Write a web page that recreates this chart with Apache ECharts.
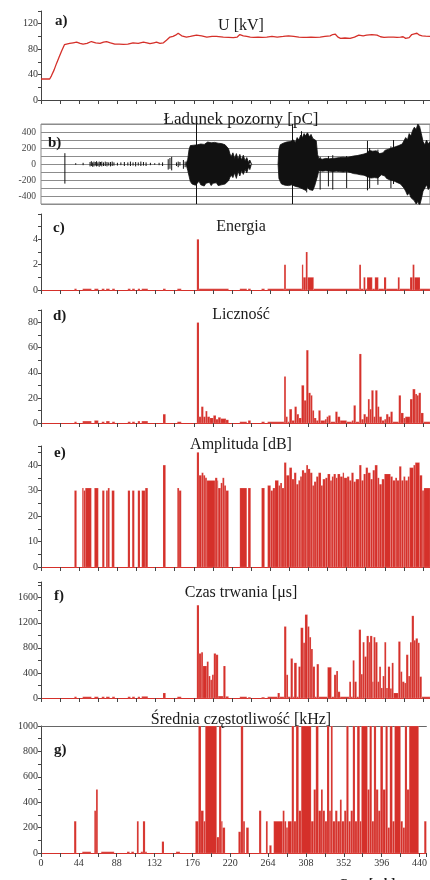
<!DOCTYPE html>
<html>
<head>
<meta charset="utf-8">
<script src="https://cdn.jsdelivr.net/npm/echarts@6/dist/echarts.min.js"></script>
<style>
  html, body { margin: 0; padding: 0; background: #fff; }
  #chart { width: 430px; height: 880px; }
</style>
</head>
<body>
<div id="chart"></div>
<script>
// time axis [s]
const xMax = 448;

// a) U [kV]  -> [t, kV]
const napiecie = [[0,33],[10,33],[12,38],[15,47],[18,58],[21,68],[24,78],[27,87],[29,89],[33,89],[37,90],[41,91],[45,89],[48.5,88],[53,89],[58,92],[63,90],[68,89],[72,91],[75.5,92],[80,90],[85,88],[90,88],[95,87.5],[100,88],[106,90],[112,89],[118,91],[122,90],[125.5,88.5],[130,90],[133,91],[137,89],[141,90],[144.5,94],[148.5,99],[152,100],[155,102],[158,105],[162,101],[167.5,99],[172,100],[179,102],[185,101],[191,99],[197,100],[202,100],[210,99],[216,98.5],[221.5,98],[226,99],[229,103],[233,101],[237,100],[241,99],[245,98.5],[250,99],[255,98.5],[260,99],[266,100],[272,99],[279,100],[285,101],[291,100],[297,99],[302,98.5],[306,98.5],[311,99],[316,98.5],[321.5,99],[327,100],[333,101],[336,103],[339,103.5],[342,99],[345,97],[350,97.5],[356,97],[361,99],[366,102],[371,101],[375,102],[381,103],[387,102],[391,99.5],[395,98.5],[400,99],[406,99],[410,98.5],[414,99],[417,99.5],[420,97],[424,98],[427,103],[430,104],[433,105],[436,102],[439,101],[443,100.5],[448,100]];

// b) Ladunek pozorny [pC] -> envelopes [t, max, min]
const ladBlob1 = [[167,0,0],[169,60,-80],[170.5,180,-150],[172,230,-220],[174,250,-250],[176,235,-230],[178,255,-265],[180,240,-240],[182,265,-215],[184,250,-260],[186,270,-235],[188,245,-275],[190,260,-240],[192,275,-255],[194,250,-230],[196,265,-270],[198,255,-240],[200,270,-260],[202,250,-235],[204,260,-270],[206,245,-245],[208,255,-260],[210,230,-240],[212,240,-250],[214,220,-230],[216,190,-210],[217.5,130,-170],[219,90,-140],[221,140,-170],[223,70,-110],[225,130,-180],[227,60,-90],[229,120,-150],[231,50,-80],[233,110,-130],[235,40,-70],[237,80,-110],[239,20,-40],[240.5,50,-70],[242,10,-15],[243,0,0]];
const ladBlob2 = [[273,0,0],[274,180,-180],[275.5,240,-220],[277,225,-250],[279,260,-235],[281,240,-265],[283,275,-240],[285,250,-270],[287,280,-245],[289,255,-260],[291,300,-250],[293,270,-280],[295,330,-260],[297,300,-290],[299,360,-280],[301,330,-310],[303,380,-300],[305,350,-330],[307,390,-290],[309,340,-320],[311,370,-300],[313,320,-330],[315,340,-280],[317,290,-300],[318.5,120,-150],[320,70,-80],[322,90,-70],[324,60,-90],[326,80,-75],[328,70,-85],[330,90,-70],[332,65,-90],[334,85,-80],[336,70,-95],[338,95,-80],[340,75,-90],[342,90,-75],[344,80,-95],[346,100,-85],[348,85,-100],[350,95,-80],[352,80,-95],[354,100,-90],[356,90,-105],[358,110,-95],[360,100,-120],[362,120,-105],[364,105,-125],[366,130,-110],[368,115,-135],[370,140,-120],[372,125,-140],[374,150,-130],[376,140,-160],[378,170,-150],[380,150,-175],[382,160,-150],[384,140,-170],[386,165,-145],[388,150,-175],[390,130,-150],[392,155,-135],[394,140,-160],[396,170,-150],[398,150,-180],[400,185,-165],[402,170,-200],[404,200,-180],[406,180,-210],[408,215,-195],[410,190,-230],[412,230,-210],[414,210,-250],[416,250,-240],[418,290,-300],[420,330,-340],[422,300,-390],[424,380,-360],[426,350,-420],[428,420,-400],[430,460,-460],[432,430,-500],[434,500,-470],[436,470,-520],[438,380,-440],[440,280,-340],[442,240,-300],[444,300,-260],[446,250,-320],[448,280,-290]];
const ladSpikes = [[27.5,135,-245],[40,10,-10],[48.5,15,-15],[56.5,25,-30],[58,35,-25],[59.5,20,-35],[61,30,-30],[62.5,25,-20],[64,35,-30],[65.5,20,-25],[67,30,-35],[68.5,25,-20],[70,30,-30],[72,20,-25],[74,30,-25],[76,25,-30],[78,20,-20],[80,25,-30],[82,30,-25],[84,20,-20],[88,15,-20],[92,20,-15],[96,25,-25],[100,20,-20],[103,30,-25],[106,20,-20],[109,25,-30],[112,20,-20],[115,30,-25],[118,25,-20],[121,20,-25],[126,15,-15],[131,10,-10],[136,15,-15],[140,20,-25],[146.5,60,-70],[148.5,75,-60],[150.5,90,-80],[156,20,-25],[158,30,-40],[160,25,-20],[164,50,-60],[166,30,-40],[300,410,-300],[306,380,-355],[321.5,90,-320],[331,100,-280],[336,110,-320],[352,100,-300],[376,290,-330],[378.5,200,-300],[388,180,-260],[403,220,-300],[406,300,-250]];
const ladMarks = [178.5, 289.5];

// c) Energia -> [t start, value] (value holds until next t)
const energia = [[0,0],[38.5,0.1],[41,0],[48,0.1],[58,0],[61.5,0.1],[66,0],[70,0.1],[73,0],[75,0.1],[79,0],[82,0.1],[85,0],[100,0.1],[103,0],[105,0.1],[108,0],[111.5,0.1],[114,0],[116,0.1],[123,0],[140.5,0.1],[143.5,0],[157,0.1],[161.5,0],[179.5,4],[182,0.1],[216,0],[229,0.1],[237,0],[238.5,0.1],[241.5,0],[254,0.1],[257.5,0],[261,0.1],[280,2],[282,0.1],[300.5,2],[302,1],[305,3],[307,1],[314,0.1],[366.5,2],[368.5,0.1],[371.5,1],[373.5,0.1],[375.5,1],[381.5,0.1],[384.5,1],[388.5,0.1],[395,1],[397.5,0.1],[411,1],[413,0.1],[425,1],[428,2],[430,1],[436.5,0.1],[448,0.1]];

// d) Licznosc
const licznosc = [[0,0],[38.5,1],[41,0],[48,1.5],[58,0],[61.5,2],[66,0],[70,1],[73,0],[75,1.5],[79,0],[82,1],[85,0],[100,1],[103,0],[105,1],[108,0],[111.5,1.5],[114,0],[116,1.5],[123,0],[140.5,7],[143.5,0],[157,1],[161.5,0],[179.5,80],[182,5],[184.5,13],[187,5],[189.5,9.5],[191.5,5],[194.5,4],[198.5,6],[201.5,3],[204,4.5],[207,3.5],[213,2.5],[216,0],[229,1],[237,0],[238.5,2],[241.5,0],[254,1],[257.5,0],[261,1],[280,37],[282,5],[284,1],[286,11],[289,2],[292,13],[294.5,7],[297,4],[300,30],[303,18],[305.5,58],[308,24],[310.5,22],[312.5,10],[314.5,4],[317,2],[319.5,10],[322,2],[327,3],[329,5],[331,6],[333.5,1],[339,9],[341.5,5],[344.5,2],[352,1],[358,2],[360,14],[362.5,1],[366.5,55],[369,3],[371.5,7],[374,5],[376.5,19],[378.5,11],[380.5,26],[383,5],[385,26],[387.5,13],[389.5,5],[392.5,2],[395.5,3],[397.5,7],[400,5],[402.5,9],[405,1],[412,22],[414.5,8],[417.5,4],[419.5,5],[425,19],[428,27],[431,23],[433,22],[435,24],[437.5,8],[440.5,1],[448,1]];

// e) Amplituda [dB]
const amplituda = [[0,0],[38.5,30],[41,0],[47.5,31],[49,30],[51,31],[58,0],[61.5,31],[66,0],[70.5,30],[73,0],[75,30],[77,31],[79,0],[81.5,30],[84.5,0],[100,30],[102.5,0],[105,30],[107.5,0],[111.5,30],[114,0],[116,30],[120,31],[123,0],[140.5,40],[143.5,0],[157,31],[159,30],[161.5,0],[179.5,45],[182,36],[185,37],[187,36],[189,35],[191,34],[200.5,35],[203,34],[204,31],[207,33],[209,35],[211,32],[213,30],[216,0],[229,31],[237,0],[238.5,31],[241.5,0],[254,31],[257.5,0],[261,32],[264.5,30],[267,31],[269.5,34],[273.5,32],[275.5,33],[277.5,31],[280,41],[282.5,36],[286,39],[289,34.5],[291.5,37],[294,32.5],[296.5,34],[298.5,35.5],[300.5,38],[303,37],[305.5,40],[307.5,38.5],[310,37],[312.5,32],[314.5,33.5],[317,35.5],[319.5,37],[322.5,32],[324.5,34.5],[327.5,35],[330,36.5],[333,34],[335,35.5],[337,36.5],[339.5,35],[341.5,36.5],[344.5,35.5],[347.5,37],[349,35],[352.5,35.5],[355,34],[357.5,37],[360,33.5],[362.5,34.5],[366.5,40],[369,34],[371.5,36.5],[374,39],[376.5,37],[379.5,34.5],[382,38],[384.5,40],[387.5,35],[389.5,32.5],[392.5,34.5],[395.5,36.5],[402.5,35.5],[405,34],[408,35],[410,34],[412.5,39.5],[415,34],[417.5,35.5],[419.5,34],[422.5,35.5],[424.5,39],[429,40],[431,41],[436,36],[439,30],[441,31],[448,31]];

// f) Czas trwania [us]
const czas = [[0,0],[38.5,20],[41,0],[48,20],[58,0],[61.5,20],[66,0],[70,20],[73,0],[75,20],[79,0],[82,20],[85,0],[100,20],[103,0],[105,20],[108,0],[111.5,20],[114,0],[116,25],[123,0],[140.5,80],[143.5,0],[157,20],[161.5,0],[179.5,1480],[182,710],[184.5,730],[186.5,510],[191,580],[193,350],[195,290],[197,370],[199,710],[201.5,690],[204,30],[210,510],[212.5,25],[216,0],[229,20],[237,0],[238.5,12],[241.5,0],[254,12],[257.5,0],[261,20],[272.5,80],[275,20],[280,1140],[282.5,370],[284.5,20],[287.5,630],[290,20],[291.5,560],[294.5,20],[296.5,500],[299,1120],[302,880],[304,1330],[307,1140],[309,970],[311,780],[313,500],[315.5,20],[317.5,540],[320,20],[330,490],[334.5,20],[337.5,370],[340,430],[342,100],[344.5,20],[355,260],[357,20],[359,600],[361,260],[363.5,20],[366,1090],[368.5,380],[370.5,890],[372.5,660],[375,990],[377.5,890],[379,990],[381.5,260],[383,970],[385,890],[387.5,260],[389.5,500],[391.5,160],[393.5,350],[395.5,890],[397.5,160],[399.5,500],[402,150],[404,560],[406,80],[411.5,900],[414,420],[416,260],[418.5,240],[420.5,690],[423,350],[425,890],[427,1310],[429.5,920],[431.5,950],[434,880],[436,340],[438.5,20],[448,20]];

// g) Srednia czestotliwosc [kHz]
const srednia = [[0,0],[38.5,250],[41,0],[48,10],[58,0],[62,333],[64,500],[66,0],[70,10],[85,0],[100,10],[103,0],[105,10],[108,0],[111.5,250],[113.5,0],[116,10],[118.5,250],[121,10],[123,0],[140.5,90],[143,0],[157,10],[161.5,0],[179.5,250],[183,1000],[186,333],[189,250],[191,1000],[204.2,125],[207,1000],[209.5,250],[211,200],[214,0],[229.5,167],[232.3,1000],[235,250],[237,0],[238.5,200],[241.5,0],[253.5,333],[256,0],[261.5,250],[263.5,0],[265.5,60],[268,0],[270.5,250],[281,333],[283,250],[285,200],[287,250],[291.5,1000],[294,250],[296.5,1000],[299.5,333],[302.5,1000],[314,250],[317,500],[319.5,1000],[322.5,333],[325.5,500],[327.5,333],[330,250],[332.5,1000],[335,333],[337,1000],[339,250],[342,333],[344.5,250],[347.5,420],[349.5,250],[352.5,333],[355,1000],[357.5,250],[360,333],[362.5,1000],[365,250],[367.5,1000],[370.5,250],[372.5,1000],[379.5,500],[382,1000],[384.5,250],[387,1000],[389.5,500],[392,333],[394.5,1000],[397.5,500],[400.5,1000],[403,200],[405.5,1000],[408.5,250],[411,1000],[418,250],[420.5,200],[423,1000],[425.5,500],[428,1000],[439,0],[445.5,250],[448,250]];

const RED = '#d5302a';
const SERIF = "'Liberation Serif', 'DejaVu Serif', serif";
const AXIS = '#444';

const chart = echarts.init(document.getElementById('chart'));

// panel layout: [top, height]
const panels = [[11, 89], [124, 80], [214, 76], [310, 113], [446, 121], [582, 116], [726, 127]];

const grids = panels.map((p, i) => ({
    left: 41, right: 0, top: p[0], height: p[1],
    show: i === 1, borderColor: '#888', borderWidth: 1
}));

const labelStyle = { fontFamily: SERIF, fontSize: 10, color: '#333' };

function xAx(gi, withLabels, lineColor) {
    return {
        gridIndex: gi, type: 'value', min: 0, max: xMax, interval: 22,
        axisLine: { show: true, onZero: false, lineStyle: { color: lineColor || AXIS } },
        axisTick: { show: true, length: 4, lineStyle: { color: AXIS } },
        splitLine: { show: false },
        axisLabel: withLabels
            ? { ...labelStyle, margin: 5, formatter: v => (v % 44 === 0 ? String(v) : '') }
            : { show: false }
    };
}

function yAx(gi, max, interval, every, hideMax) {
    return {
        gridIndex: gi, type: 'value', min: 0, max: max, interval: interval,
        axisLine: { show: true, lineStyle: { color: AXIS } },
        axisTick: { show: true, length: 3, lineStyle: { color: AXIS } },
        splitLine: { show: false },
        axisLabel: { ...labelStyle, margin: 3,
            formatter: v => (Math.abs(v % every) < 1e-6 && !(hideMax && v === max) ? String(v) : '') }
    };
}

const xAxes = [
    xAx(0, false),
    { gridIndex: 1, type: 'value', min: 0, max: xMax, axisLine: { show: false }, axisTick: { show: false },
      axisLabel: { show: false }, splitLine: { show: false } },
    xAx(2, false, RED), xAx(3, false, RED), xAx(4, false, RED), xAx(5, false, RED), xAx(6, true, RED),
    // top frame line of panel g
    { gridIndex: 6, type: 'value', position: 'top', min: 0, max: xMax,
      axisLine: { show: true, onZero: false, lineStyle: { color: '#666' } },
      axisTick: { show: false }, axisLabel: { show: false }, splitLine: { show: false } }
];

const yAxes = [
    yAx(0, 140, 20, 40),
    { gridIndex: 1, type: 'value', min: -500, max: 500, interval: 100,
      axisLine: { show: false }, axisTick: { show: false },
      splitLine: { show: true, lineStyle: { color: '#8c8c8c', width: 1 } },
      axisLabel: { ...labelStyle, color: '#444', fontSize: 9.5, margin: 5,
          formatter: v => (v % 200 === 0 && Math.abs(v) < 500 ? String(v) : '') } },
    yAx(2, 6, 1, 2, true),
    yAx(3, 90, 10, 20),
    yAx(4, 47.5, 5, 10),
    yAx(5, 1850, 200, 400),
    yAx(6, 1000, 100, 200)
];

// histogram bars: each row holds its value until the next row's time
function histSeries(idx, rows) {
    const data = rows.slice(0, -1).map((r, i) => [r[0], rows[i + 1][0], r[1]]);
    return {
        type: 'custom', xAxisIndex: idx, yAxisIndex: idx, silent: true,
        data, encode: { x: [0, 1], y: 2 },
        renderItem: (params, api) => {
            const v = api.value(2);
            if (!v) return null;
            const p0 = api.coord([api.value(0), v]);
            const p1 = api.coord([api.value(1), 0]);
            return {
                type: 'rect',
                shape: { x: p0[0], y: p0[1], width: p1[0] - p0[0], height: Math.max(p1[1] - p0[1], 1) },
                style: { fill: RED, stroke: 'rgba(255,235,235,0.35)', lineWidth: 0.4 }
            };
        }
    };
}

function envelope(rows, col, marks) {
    const s = {
        type: 'line', xAxisIndex: 1, yAxisIndex: 1, showSymbol: false, silent: true,
        data: rows.map(r => [r[0], r[col]]),
        lineStyle: { color: '#111', width: 0.8 },
        areaStyle: { color: '#111', opacity: 1 }
    };
    if (marks) {
        s.markLine = {
            symbol: 'none', silent: true, label: { show: false },
            lineStyle: { color: '#111', width: 1, type: 'solid' },
            data: marks.map(t => ({ xAxis: t }))
        };
    }
    return s;
}

const titleText = (text, top, size) => ({
    text, left: 236, top, textAlign: 'center',
    textStyle: { fontFamily: SERIF, fontSize: size || 16, fontWeight: 'normal', color: '#1a1a1a' }
});
const tag = (text, left, top) => ({
    text, left, top,
    textStyle: { fontFamily: SERIF, fontSize: 15, fontWeight: 'bold', color: '#1a1a1a' }
});

const option = {
    animation: false,
    backgroundColor: '#fff',
    title: [
        titleText('U [kV]', 13),
        titleText('Ładunek pozorny [pC]', 106, 17),
        titleText('Energia', 214),
        titleText('Liczność', 302),
        titleText('Amplituda [dB]', 432),
        titleText('Czas trwania [μs]', 580),
        titleText('Średnia częstotliwość [kHz]', 707),
        tag('a)', 50, 9), tag('b)', 43, 131), tag('c)', 48, 216), tag('d)', 48, 304),
        tag('e)', 49, 441), tag('f)', 49, 584), tag('g)', 49, 738),
        { text: 'Czas [sek]', left: 362, top: 872, textAlign: 'center',
          textStyle: { fontFamily: SERIF, fontSize: 13, fontWeight: 'bold', color: '#1a1a1a' } }
    ],
    grid: grids,
    xAxis: xAxes,
    yAxis: yAxes,
    series: [
        { type: 'line', xAxisIndex: 0, yAxisIndex: 0, data: napiecie, showSymbol: false, silent: true,
          lineStyle: { color: RED, width: 1.3 } },
        envelope(ladBlob1, 1, ladMarks),
        envelope(ladBlob1, 2),
        envelope(ladBlob2, 1),
        envelope(ladBlob2, 2),
        {
            type: 'custom', xAxisIndex: 1, yAxisIndex: 1, silent: true,
            data: ladSpikes, encode: { x: 0, y: [1, 2] },
            renderItem: (params, api) => {
                const p1 = api.coord([api.value(0), api.value(1)]);
                const p2 = api.coord([api.value(0), api.value(2)]);
                return { type: 'line', shape: { x1: p1[0], y1: p1[1], x2: p2[0], y2: p2[1] },
                         style: { stroke: '#111', lineWidth: 1 } };
            }
        },
        histSeries(2, energia),
        histSeries(3, licznosc),
        histSeries(4, amplituda),
        histSeries(5, czas),
        histSeries(6, srednia)
    ]
};

chart.setOption(option);
</script>
</body>
</html>
